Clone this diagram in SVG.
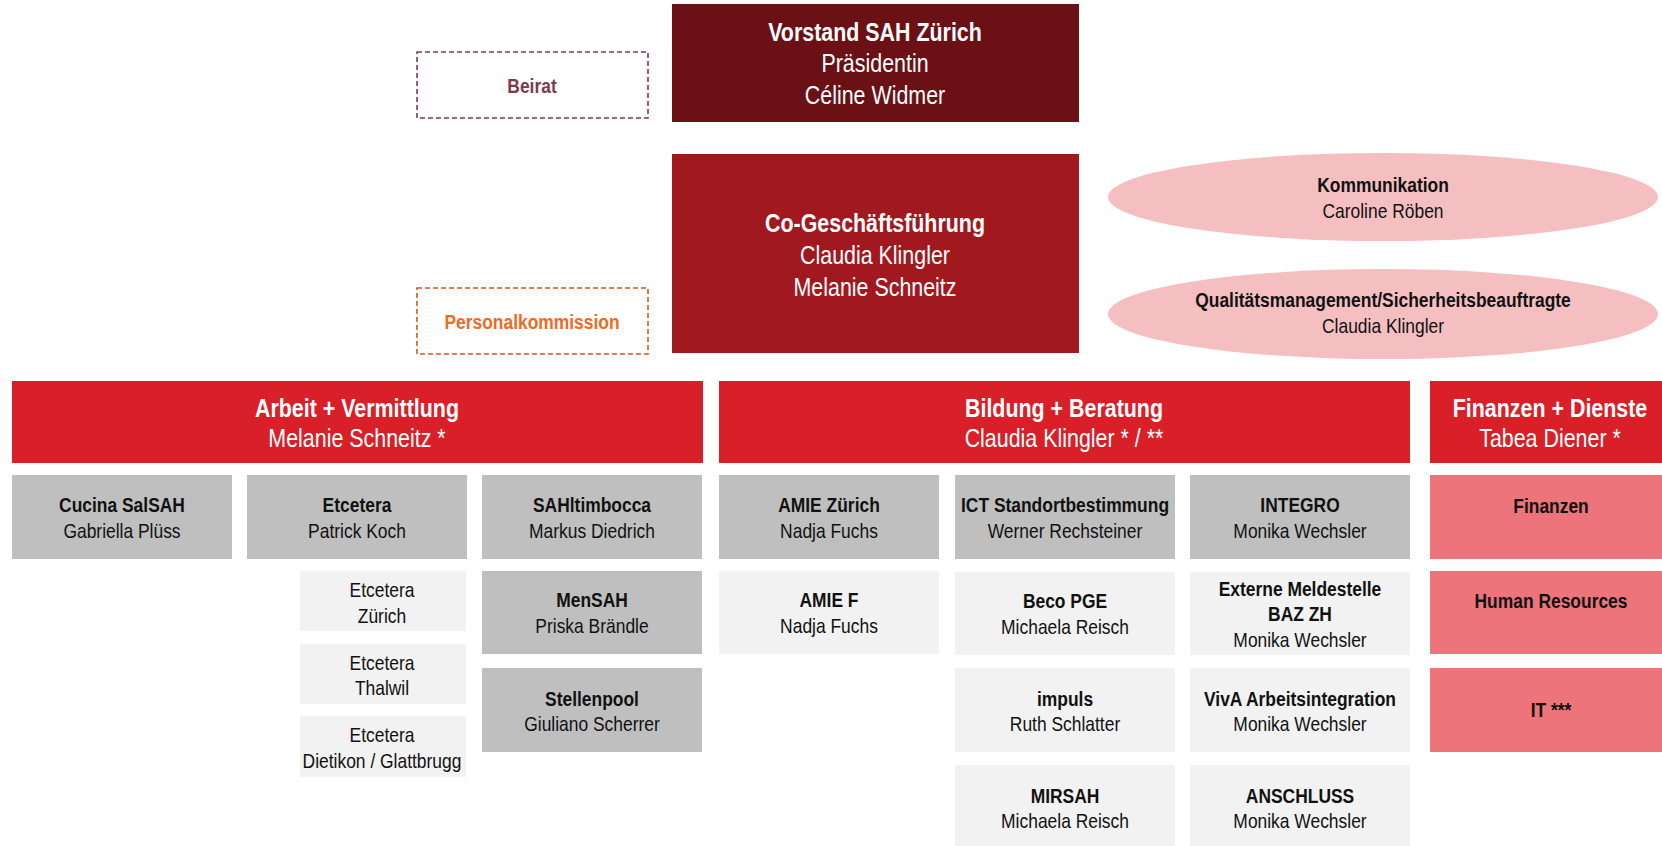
<svg xmlns="http://www.w3.org/2000/svg" width="1662" height="846" viewBox="0 0 1662 846">
<style>
text{font-family:"Liberation Sans",Arial,sans-serif;text-anchor:middle}
.b{font-weight:bold}
.w{fill:#ffffff}
.k{fill:#111111}
.t{font-size:25.5px}
.s{font-size:20.5px}
.vor{fill:#6b1015}
.cgf{fill:#a1181f}
.hdr{fill:#d91f28}
.gray{fill:#bfbfbf}
.light{fill:#f2f2f2}
.pink{fill:#ec747a}
.ell{fill:#f5bfc2}
</style>
<rect width="1662" height="846" fill="#ffffff"/>
<g id="connectors"></g>

<g id="vorstand">
<rect class="vor" x="672" y="4" width="407" height="118"/>
<text class="b w t" transform="translate(875,41) scale(0.84,1)">Vorstand SAH Zürich</text>
<text class="w t" transform="translate(875,72) scale(0.84,1)">Präsidentin</text>
<text class="w t" transform="translate(875,104) scale(0.84,1)">Céline Widmer</text>
</g>

<g id="beirat">
<rect x="417" y="52" width="231" height="66" fill="none" stroke="#7d3a4c" stroke-width="1.6" stroke-dasharray="5,3"/>
<text class="b s" fill="#7d3a4c" transform="translate(532,93) scale(0.85,1)">Beirat</text>
</g>

<g id="geschaeftsfuehrung">
<rect class="cgf" x="672" y="154" width="407" height="199"/>
<text class="b w t" transform="translate(875,232) scale(0.84,1)">Co-Geschäftsführung</text>
<text class="w t" transform="translate(875,264) scale(0.84,1)">Claudia Klingler</text>
<text class="w t" transform="translate(875,296) scale(0.84,1)">Melanie Schneitz</text>
</g>

<g id="personalkommission">
<rect x="417" y="288" width="231" height="66" fill="none" stroke="#cc5a1e" stroke-width="1.6" stroke-dasharray="5,3"/>
<text class="b s" fill="#ef6a24" transform="translate(532,329) scale(0.85,1)">Personalkommission</text>
</g>

<g id="kommunikation">
<ellipse class="ell" cx="1383" cy="197" rx="275" ry="44"/>
<text class="b k s" transform="translate(1383,192) scale(0.85,1)">Kommunikation</text>
<text class="k s" transform="translate(1383,218) scale(0.85,1)">Caroline Röben</text>
</g>

<g id="qualitaet">
<ellipse class="ell" cx="1383" cy="314" rx="275" ry="45"/>
<text class="b k s" transform="translate(1383,307) scale(0.85,1)">Qualitätsmanagement/Sicherheitsbeauftragte</text>
<text class="k s" transform="translate(1383,333) scale(0.85,1)">Claudia Klingler</text>
</g>

<g id="arbeit">
<rect class="hdr" x="12" y="381" width="691" height="82"/>
<text class="b w t" transform="translate(357,417) scale(0.84,1)">Arbeit + Vermittlung</text>
<text class="w t" transform="translate(357,447) scale(0.84,1)">Melanie Schneitz *</text>
</g>

<g id="bildung">
<rect class="hdr" x="719" y="381" width="691" height="82"/>
<text class="b w t" transform="translate(1064,417) scale(0.84,1)">Bildung + Beratung</text>
<text class="w t" transform="translate(1064,447) scale(0.84,1)">Claudia Klingler * / **</text>
</g>

<g id="finanzen-dienste">
<rect class="hdr" x="1430" y="381" width="232" height="82"/>
<text class="b w t" transform="translate(1550,417) scale(0.84,1)">Finanzen + Dienste</text>
<text class="w t" transform="translate(1550,447) scale(0.84,1)">Tabea Diener *</text>
</g>

<g id="cucina">
<rect class="gray" x="12" y="475" width="220" height="84"/>
<text class="b k s" transform="translate(122,512) scale(0.85,1)">Cucina SalSAH</text>
<text class="k s" transform="translate(122,538) scale(0.85,1)">Gabriella Plüss</text>
</g>
<g id="etcetera">
<rect class="gray" x="247" y="475" width="220" height="84"/>
<text class="b k s" transform="translate(357,512) scale(0.85,1)">Etcetera</text>
<text class="k s" transform="translate(357,538) scale(0.85,1)">Patrick Koch</text>
</g>
<g id="sahltimbocca">
<rect class="gray" x="482" y="475" width="220" height="84"/>
<text class="b k s" transform="translate(592,512) scale(0.85,1)">SAHltimbocca</text>
<text class="k s" transform="translate(592,538) scale(0.85,1)">Markus Diedrich</text>
</g>
<g id="amie-zuerich">
<rect class="gray" x="719" y="475" width="220" height="84"/>
<text class="b k s" transform="translate(829,512) scale(0.85,1)">AMIE Zürich</text>
<text class="k s" transform="translate(829,538) scale(0.85,1)">Nadja Fuchs</text>
</g>
<g id="ict">
<rect class="gray" x="955" y="475" width="220" height="84"/>
<text class="b k s" transform="translate(1065,512) scale(0.85,1)">ICT Standortbestimmung</text>
<text class="k s" transform="translate(1065,538) scale(0.85,1)">Werner Rechsteiner</text>
</g>
<g id="integro">
<rect class="gray" x="1190" y="475" width="220" height="84"/>
<text class="b k s" transform="translate(1300,512) scale(0.85,1)">INTEGRO</text>
<text class="k s" transform="translate(1300,538) scale(0.85,1)">Monika Wechsler</text>
</g>
<g id="finanzen">
<rect class="pink" x="1430" y="475" width="232" height="84"/>
<text class="b k s" transform="translate(1551,513) scale(0.85,1)">Finanzen</text>
</g>

<g id="etcetera-zuerich">
<rect class="light" x="300" y="571" width="166" height="60"/>
<text class="k s" transform="translate(382,597) scale(0.85,1)">Etcetera</text>
<text class="k s" transform="translate(382,623) scale(0.85,1)">Zürich</text>
</g>
<g id="etcetera-thalwil">
<rect class="light" x="300" y="644" width="166" height="60"/>
<text class="k s" transform="translate(382,670) scale(0.85,1)">Etcetera</text>
<text class="k s" transform="translate(382,695) scale(0.85,1)">Thalwil</text>
</g>
<g id="etcetera-dietikon">
<rect class="light" x="300" y="716" width="166" height="61"/>
<text class="k s" transform="translate(382,742) scale(0.85,1)">Etcetera</text>
<text class="k s" transform="translate(382,768) scale(0.85,1)">Dietikon / Glattbrugg</text>
</g>
<g id="mensah">
<rect class="gray" x="482" y="571" width="220" height="83"/>
<text class="b k s" transform="translate(592,607) scale(0.85,1)">MenSAH</text>
<text class="k s" transform="translate(592,633) scale(0.85,1)">Priska Brändle</text>
</g>
<g id="stellenpool">
<rect class="gray" x="482" y="668" width="220" height="84"/>
<text class="b k s" transform="translate(592,706) scale(0.85,1)">Stellenpool</text>
<text class="k s" transform="translate(592,731) scale(0.85,1)">Giuliano Scherrer</text>
</g>
<g id="amie-f">
<rect class="light" x="719" y="571" width="220" height="83"/>
<text class="b k s" transform="translate(829,607) scale(0.85,1)">AMIE F</text>
<text class="k s" transform="translate(829,633) scale(0.85,1)">Nadja Fuchs</text>
</g>
<g id="beco">
<rect class="light" x="955" y="572" width="220" height="83"/>
<text class="b k s" transform="translate(1065,608) scale(0.85,1)">Beco PGE</text>
<text class="k s" transform="translate(1065,634) scale(0.85,1)">Michaela Reisch</text>
</g>
<g id="externe-meldestelle">
<rect class="light" x="1190" y="572" width="220" height="83"/>
<text class="b k s" transform="translate(1300,596) scale(0.85,1)">Externe Meldestelle</text>
<text class="b k s" transform="translate(1300,621) scale(0.85,1)">BAZ ZH</text>
<text class="k s" transform="translate(1300,647) scale(0.85,1)">Monika Wechsler</text>
</g>
<g id="human-resources">
<rect class="pink" x="1430" y="571" width="232" height="83"/>
<text class="b k s" transform="translate(1551,608) scale(0.85,1)">Human Resources</text>
</g>
<g id="impuls">
<rect class="light" x="955" y="668" width="220" height="84"/>
<text class="b k s" transform="translate(1065,706) scale(0.85,1)">impuls</text>
<text class="k s" transform="translate(1065,731) scale(0.85,1)">Ruth Schlatter</text>
</g>
<g id="viva">
<rect class="light" x="1190" y="668" width="220" height="84"/>
<text class="b k s" transform="translate(1300,706) scale(0.85,1)">VivA Arbeitsintegration</text>
<text class="k s" transform="translate(1300,731) scale(0.85,1)">Monika Wechsler</text>
</g>
<g id="it">
<rect class="pink" x="1430" y="668" width="232" height="84"/>
<text class="b k s" transform="translate(1551,717) scale(0.85,1)">IT ***</text>
</g>
<g id="mirsah">
<rect class="light" x="955" y="765" width="220" height="81"/>
<text class="b k s" transform="translate(1065,803) scale(0.85,1)">MIRSAH</text>
<text class="k s" transform="translate(1065,828) scale(0.85,1)">Michaela Reisch</text>
</g>
<g id="anschluss">
<rect class="light" x="1190" y="765" width="220" height="81"/>
<text class="b k s" transform="translate(1300,803) scale(0.85,1)">ANSCHLUSS</text>
<text class="k s" transform="translate(1300,828) scale(0.85,1)">Monika Wechsler</text>
</g>
</svg>
